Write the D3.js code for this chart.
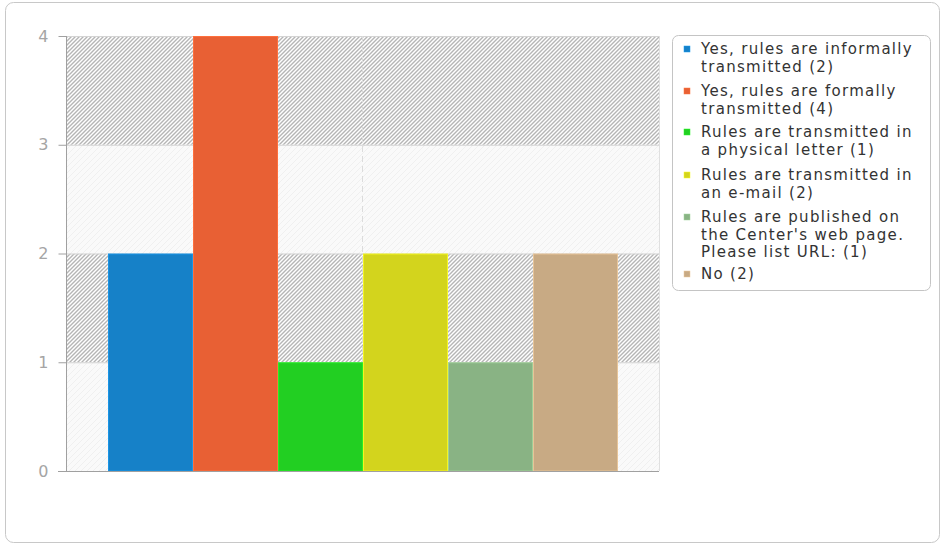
<!DOCTYPE html>
<html><head><meta charset="utf-8">
<script src="https://cdn.jsdelivr.net/npm/d3@7"></script>
<style>html,body{margin:0;padding:0;background:#fff;}svg{display:block;font-family:"DejaVu Sans",sans-serif;}</style>
</head><body>
<svg id="c" width="942" height="545"></svg>
<script>
const categories = ["Yes, rules are informally transmitted", "Yes, rules are formally transmitted", "Rules are transmitted in a physical letter", "Rules are transmitted in an e-mail", "Rules are published on the Center's web page. Please list URL:", "No"];
const values = [2, 4, 1, 2, 1, 2];
const colors = ["#1681c8", "#e86034", "#22cf22", "#d3d41d", "#89b384", "#c8aa84"];
const legendLines = [
  ["Yes, rules are informally", "transmitted (2)"],
  ["Yes, rules are formally", "transmitted (4)"],
  ["Rules are transmitted in", "a physical letter (1)"],
  ["Rules are transmitted in", "an e-mail (2)"],
  ["Rules are published on", "the Center's web page.", "Please list URL: (1)"],
  ["No (2)"]
];
const yTicks = [0, 1, 2, 3, 4];

(function(){
const svg = d3.select("#c");
const defs = svg.append("defs");
const p1 = defs.append("pattern").attr("id","hatchDark").attr("patternUnits","userSpaceOnUse").attr("width",4).attr("height",4);
p1.append("rect").attr("width",4).attr("height",4).attr("fill","#fff");
p1.append("path").attr("d","M-1,1 l2,-2 M0,4 l4,-4 M3,5 l2,-2").attr("stroke","#b5b5b5").attr("stroke-width",1.4);
const p2 = defs.append("pattern").attr("id","hatchLight").attr("patternUnits","userSpaceOnUse").attr("width",6).attr("height",6);
p2.append("rect").attr("width",6).attr("height",6).attr("fill","#fafafa");
p2.append("path").attr("d","M-1,1 l2,-2 M0,6 l6,-6 M5,7 l2,-2").attr("stroke","#f0f0f0").attr("stroke-width",1);

// outer frame
svg.append("rect").attr("x",5.5).attr("y",2.5).attr("width",934).attr("height",540).attr("rx",8)
  .attr("fill","none").attr("stroke","#c8c8c8");

const pL = 66, pR = 659, pT = 36, pB = 471;
const y = d3.scaleLinear().domain([0, 4]).range([pB, pT]);
const x = d3.scaleBand().domain(categories).range([108, 618]).padding(0);

// bands
for (let i = 0; i < 4; i++) {
  svg.append("rect").attr("x", pL).attr("y", y(i+1)).attr("width", pR-pL).attr("height", y(i)-y(i+1))
    .attr("fill", i % 2 === 1 ? "url(#hatchDark)" : "url(#hatchLight)");
}
yTicks.forEach(t => {
  svg.append("line").attr("x1",pL).attr("x2",pR).attr("y1",y(t)+0.5).attr("y2",y(t)+0.5)
    .attr("stroke", "#d4d4d4");
});
svg.append("line").attr("x1",pR+0.5).attr("x2",pR+0.5).attr("y1",pT).attr("y2",pB).attr("stroke","#e0e0e0");
svg.append("line").attr("x1",362.5).attr("x2",362.5).attr("y1",pT).attr("y2",pB)
  .attr("stroke","#dcdcdc").attr("stroke-dasharray","6,4");

// bars
svg.append("g").selectAll("rect").data(values).join("rect")
  .attr("x",(d,i)=>x(categories[i])+0.5).attr("y",d=>y(d)+0.5)
  .attr("width",x.bandwidth()-1).attr("height",d=>y(0)-y(d)-0.5)
  .attr("fill",(d,i)=>colors[i])
  .attr("stroke",(d,i)=>d3.color(colors[i]).brighter(0.4)).attr("stroke-width",1);

// y axis
const ax = svg.append("g").attr("transform",`translate(${pL+0.5},0)`)
  .call(d3.axisLeft(y).tickValues(yTicks).tickFormat(d3.format("d")).tickSize(8).tickPadding(10));
ax.select(".domain").attr("stroke","#a0a0a0").attr("d",`M0,${pT}V${pB}`);
ax.selectAll(".tick line").attr("stroke","#a0a0a0");
ax.selectAll(".tick text").attr("fill","#a5a5a5").attr("font-size",16).attr("font-family","DejaVu Sans, sans-serif");
svg.append("line").attr("x1",58).attr("x2",pR).attr("y1",pB+0.5).attr("y2",pB+0.5).attr("stroke","#a0a0a0");

// legend
svg.append("rect").attr("x",672.5).attr("y",35.5).attr("width",258).attr("height",255).attr("rx",6)
  .attr("fill","#fff").attr("stroke","#c4c4c4");
const firstBaselines = [54, 96, 137, 180, 222, 279];
const lg = svg.append("g");
legendLines.forEach((lines, i) => {
  lg.append("rect").attr("x",684).attr("y",firstBaselines[i]-8).attr("width",6).attr("height",6)
    .attr("fill",colors[i]).attr("stroke",d3.color(colors[i]).brighter(0.5)).attr("stroke-width",0.5);
  lines.forEach((t, j) => {
    lg.append("text").attr("x",701).attr("y",firstBaselines[i] + j*17.5)
      .attr("font-size",15).attr("letter-spacing","1.3px").attr("fill","#333").text(t);
  });
});
})();
</script>
</body></html>
